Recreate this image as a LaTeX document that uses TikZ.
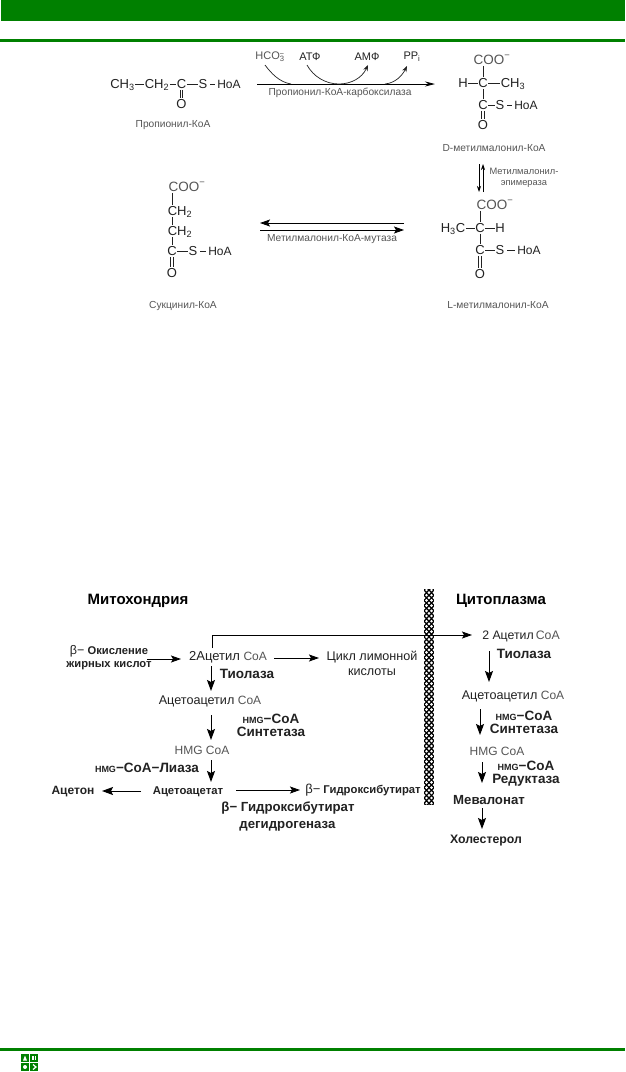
\documentclass[tikz,border=0pt]{standalone}
\usepackage{fontspec}
\setmainfont{Liberation Sans}
\usetikzlibrary{arrows.meta}
\definecolor{bandgreen}{HTML}{008000}
\definecolor{ink}{HTML}{222222}
\definecolor{soft}{HTML}{555555}
\newcommand{\hmgsmall}{{\fontsize{9}{9}\selectfont HMG}}
\newcommand{\coa}{{\color{soft}CoA}}
\newcommand{\dblbond}[2]{%
  \draw[bond,line width=0.7pt] ([xshift=-1.2pt]#1.south) -- ([xshift=-1.2pt]#2.north);
  \draw[bond,line width=0.7pt] ([xshift=1.2pt]#1.south) -- ([xshift=1.2pt]#2.north);}
\tikzset{
  every node/.style={inner sep=0.8pt,outer sep=0pt,align=center,text=ink},
  chem/.style={font=\fontsize{13}{14}\selectfont,text height=9pt,text depth=1pt,text=ink},
  chemk/.style={chem,font=\fontsize{12}{14}\selectfont},
  chemsoft/.style={chem,font=\fontsize{13.5}{14}\selectfont,text=soft},
  caplab/.style={font=\fontsize{10.2}{11}\selectfont,text=soft},
  reag/.style={font=\fontsize{11}{11}\selectfont,text=ink},
  plainlab/.style={font=\fontsize{12.6}{14}\selectfont,text=ink},
  boldl/.style={font=\fontsize{13.5}{14}\bfseries\selectfont,text=ink},
  smallb/.style={font=\fontsize{11.3}{13}\bfseries\selectfont,text=ink},
  titleb/.style={font=\fontsize{15}{16}\bfseries\selectfont,text=black},
  bond/.style={line width=0.6pt,draw=ink},
  thin arr/.style={line width=0.7pt,draw=black,-{Stealth[length=6pt,width=4pt]}},
  big arr/.style={line width=1pt,draw=black,-{Stealth[length=11pt,width=8pt,inset=2pt]}},
  hor arr/.style={line width=0.9pt,draw=black,-{Stealth[length=10pt,width=7pt,inset=2pt]}},
}
\begin{document}
\begin{tikzpicture}[x=1pt,y=-1pt]
\useasboundingbox (0,0) rectangle (625,1072);
\fill[white] (0,0) rectangle (625,1072);
% page furniture
\fill[bandgreen] (1,0) rectangle (625,21);
\fill[bandgreen] (0,39) rectangle (625,42);
\fill[bandgreen] (0,1048) rectangle (625,1051);
\fill[bandgreen] (21,1054) rectangle (29,1062);
\fill[bandgreen] (30,1054) rectangle (38,1062);
\fill[bandgreen] (21,1063) rectangle (29,1071);
\fill[bandgreen] (30,1063) rectangle (38,1071);
\fill[white] (25,1055.5) -- (27,1060.5) -- (23,1060.5) -- cycle;
\fill[white] (32,1056) rectangle (33.5,1060);
\fill[white] (34.5,1056) rectangle (36,1060);
\fill[white] (25,1067) circle (2);
\draw[white,line width=1.2pt] (33,1064.5) -- (36,1067) -- (33,1069.5);

% ---------- propionyl-CoA
\node[chem] (p1) at (122.5,84) {CH\textsubscript{3}};
\node[chem] (p2) at (157,84) {CH\textsubscript{2}};
\node[chem] (p3) at (181.5,84) {C};
\node[chem] (p4) at (203,84) {S};
\node[chemk] (p5) at (229,84) {HoA};
\node[chem] (p6) at (181.5,104) {O};
\draw[bond] (p1) -- (p2);
\draw[bond] (p2) -- (p3);
\draw[bond] (p3) -- (p4);
\draw[bond] ([shift={(2,0)}]p4.east) -- ([shift={(-2,0)}]p5.west);
\dblbond{p3}{p6}
\node[caplab] (pn) at (173,125) {Пропионил-КоА};

% ---------- carboxylase arrow
\node[chem] (dc) at (483,83) {C};
\node[caplab] (carb) at (340,93) {Пропионил-КоА-карбоксилаза};
\node[reag,text=soft] (hco) at (270,57) {HCO\textsubscript{3}\llap{\textsuperscript{−}}};
\node[reag] (atf) at (310,57) {АТФ};
\node[reag] (amf) at (367,57) {АМФ};
\node[reag] (ppi) at (412,57) {PP\textsubscript{i}};
\draw[line width=0.9pt,draw=black,-{Stealth[length=10pt,width=5pt]}] ([shift={(-226,1)}]dc.center) -- ([shift={(-48,1)}]dc.center);
\draw[line width=0.7pt,draw=ink] ([shift={(-5,8)}]hco.center) .. controls (271,73) and (279,82) .. (291,84);
\draw[line width=0.7pt,draw=ink,-{Stealth[length=6pt,width=4.5pt]}] ([shift={(-3,8)}]atf.center) .. controls (313,76) and (325,84) .. (339,84) .. controls (351,84) and (362,78) .. ([shift={(1,8)}]amf.center);
\draw[line width=0.7pt,draw=ink,-{Stealth[length=6pt,width=4.5pt]}] (385,84) .. controls (395,83) and (402,76) .. ([shift={(-5,9)}]ppi.center);

% ---------- D-methylmalonyl-CoA
\node[chemsoft] (d1) at (492,60) {COO\textsuperscript{−}};
\node[chem] (dh) at (463,83) {H};
\node[chem] (dch3) at (513,83) {CH\textsubscript{3}};
\node[chem] (d2) at (483,105) {C};
\node[chem] (ds) at (500,105) {S};
\node[chemk] (dk) at (526,105) {HoA};
\node[chem] (do) at (483,125) {O};
\draw[bond] (dh) -- (dc);
\draw[bond] (dc) -- (dch3);
\draw[bond] ([shift={(-9,0)}]d1.south) -- (dc);
\draw[bond] (dc) -- (d2);
\draw[bond] (d2) -- (ds);
\draw[bond] ([shift={(2,0)}]ds.east) -- ([shift={(-2,0)}]dk.west);
\dblbond{d2}{do}
\node[caplab] (dn) at (494,148) {D-метилмалонил-КоА};

% ---------- epimerase
\node[caplab,font=\fontsize{9.3}{11}\selectfont] (ep) at (524,177.5) {Метилмалонил-\\эпимераза};
\node[chemsoft] (l1) at (495,205) {COO\textsuperscript{−}};
\draw[thin arr] ([shift={(-15,16)}]dn.center) -- ([shift={(-15,44)}]dn.center);
\draw[thin arr] ([shift={(-12,-13)}]l1.center) -- ([shift={(-12,-41)}]l1.center);

% ---------- L-methylmalonyl-CoA
\node[chem] (lh3) at (453,228) {H\textsubscript{3}C};
\node[chem] (lc) at (480,228) {C};
\node[chem] (lh) at (500,228) {H};
\node[chem] (l2) at (480,250) {C};
\node[chem] (ls) at (500,250) {S};
\node[chemk] (lk) at (529,250) {HoA};
\node[chem] (lo) at (480,274) {O};
\draw[bond] (lh3) -- (lc);
\draw[bond] (lc) -- (lh);
\draw[bond] ([shift={(-15,0)}]l1.south) -- (lc);
\draw[bond] (lc) -- (l2);
\draw[bond] (l2) -- (ls);
\draw[bond] ([shift={(2,0)}]ls.east) -- ([shift={(-2,0)}]lk.west);
\dblbond{l2}{lo}
\node[caplab] (ln) at (498,305) {L-метилмалонил-КоА};

% ---------- succinyl-CoA
\node[chemsoft] (s0) at (187,187) {COO\textsuperscript{−}};
\node[chem] (s1) at (180,211) {CH\textsubscript{2}};
\node[chem] (s2) at (180,231) {CH\textsubscript{2}};
\node[chem] (s3) at (172,251) {C};
\node[chem] (s4) at (193,251) {S};
\node[chemk] (s5) at (220,251) {HoA};
\node[chem] (s6) at (172,273) {O};
\draw[bond] ([shift={(-15,0)}]s0.south) -- ([shift={(-8,0)}]s1.north);
\draw[bond] ([shift={(-8,0)}]s1.south) -- ([shift={(-8,0)}]s2.north);
\draw[bond] ([shift={(-8,0)}]s2.south) -- (s3);
\draw[bond] (s3) -- (s4);
\draw[bond] ([shift={(2,0)}]s4.east) -- ([shift={(-2,0)}]s5.west);
\dblbond{s3}{s6}
\node[caplab] (sn) at (183,306) {Сукцинил-КоА};

% ---------- mutase
\node[caplab] (mut) at (332,239) {Метилмалонил-КоА-мутаза};
\draw[hor arr] ([shift={(72,-16)}]mut.center) -- ([shift={(-72,-16)}]mut.center);
\draw[hor arr] ([shift={(-72,-9)}]mut.center) -- ([shift={(72,-9)}]mut.center);

% ---------- membrane
\begin{scope}
\clip (424,589) rectangle (434,805);
\fill[black] (424,589) rectangle (434,805);
\foreach \r in {0,...,83}{
  \pgfmathsetmacro{\yy}{590+2.6*\r}
  \ifodd\r
    \foreach \xx in {424,429,434} {\fill[white] (\xx,\yy) circle (1.45);}
  \else
    \foreach \xx in {426.5,431.5} {\fill[white] (\xx,\yy) circle (1.45);}
  \fi
}
\end{scope}

% ---------- mitochondria
\node[titleb] (mt) at (138,601) {Митохондрия};
\node[titleb] (ct) at (501,601) {Цитоплазма};
\node[smallb,font=\fontsize{11.2}{13}\bfseries\selectfont] (box) at (109,658) {{\fontsize{12.5}{13}\mdseries\selectfont β−} Окисление\\жирных кислот};
\node[plainlab,font=\fontsize{13}{14}\selectfont] (ac) at (228,657) {2Ацетил {\fontsize{12}{14}\selectfont\coa}};
\node[plainlab] (cyc) at (372,663) {Цикл лимонной\\[1pt]кислоты};
\node[boldl] (tio) at (247,674) {Тиолаза};
\node[plainlab] (aca) at (210,701) {Ацетоацетил {\fontsize{12}{14}\selectfont\coa}};
\node[boldl] (sy) at (271,725) {\hmgsmall−CoA\\[-1pt]Синтетаза};
\node[plainlab,font=\fontsize{12}{14}\selectfont,text=soft] (hmg) at (202,750) {HMG CoA};
\node[boldl] (lia) at (147,768) {\hmgsmall−CoA−Лиаза};
\node[smallb] (acc) at (188,792) {Ацетоацетат};
\node[boldl,font=\fontsize{12}{14}\bfseries\selectfont] (act) at (73,792) {Ацетон};
\node[smallb] (hb) at (363,790) {{\fontsize{13}{14}\mdseries\selectfont β−} Гидроксибутират};
\node[boldl,align=left,font=\fontsize{13.2}{17}\bfseries\selectfont] (dh1) at (288,816.5) {β− Гидроксибутират\\\hspace*{18pt}дегидрогеназа};

\draw[hor arr] ([shift={(38,1)}]box.center) -- ([shift={(-47,2)}]ac.center);
\draw[hor arr] ([shift={(46,1)}]ac.center) -- ([shift={(-53,-5)}]cyc.center);
\draw[big arr] ([shift={(-17,9)}]ac.center) -- ([shift={(1,-10)}]aca.center);
\draw[big arr] ([shift={(1,14)}]aca.center) -- ([shift={(9,-10)}]hmg.center);
\draw[big arr] ([shift={(9,10)}]hmg.center) -- ([shift={(23,-10)}]acc.center);
\draw[big arr] ([shift={(-47,-1)}]acc.center) -- ([shift={(29,-1)}]act.center);
\draw[hor arr] ([shift={(48,-2)}]acc.center) -- ([shift={(-63,0)}]hb.center);

% ---------- cytoplasm
\node[plainlab,font=\fontsize{12.3}{14}\selectfont] (ac2) at (521,636) {2 Ацетил\,\coa};
\node[boldl] (tio2) at (524,654) {Тиолаза};
\node[plainlab] (aca2) at (513,696) {Ацетоацетил {\fontsize{12}{14}\selectfont\coa}};
\node[boldl] (sy2) at (524,722) {\hmgsmall−CoA\\[-1pt]Синтетаза};
\node[plainlab,font=\fontsize{12}{14}\selectfont,text=soft] (hmg2) at (497,751) {HMG CoA};
\node[boldl] (red) at (526,774) {\hmgsmall−CoA\\[-1pt]Редуктаза};
\node[boldl,font=\fontsize{13.2}{14}\bfseries\selectfont] (mev) at (489,800) {Мевалонат};
\node[smallb,font=\fontsize{12.3}{14}\bfseries\selectfont] (hol) at (486,841) {Холестерол};

\draw[hor arr] ([shift={(-16,-9)}]ac.center) |- ([shift={(-49,-1)}]ac2.center);
\draw[big arr] ([shift={(-32,15)}]ac2.center) -- ([shift={(-24,-14)}]aca2.center);
\draw[big arr] ([shift={(-33,13)}]aca2.center) -- ([shift={(-17,-16)}]hmg2.center);
\draw[big arr] ([shift={(-15,11)}]hmg2.center) -- ([shift={(-7,-17)}]mev.center);
\draw[big arr] ([shift={(-7,8)}]mev.center) -- ([shift={(-4,-12)}]hol.center);
\end{tikzpicture}
\end{document}
